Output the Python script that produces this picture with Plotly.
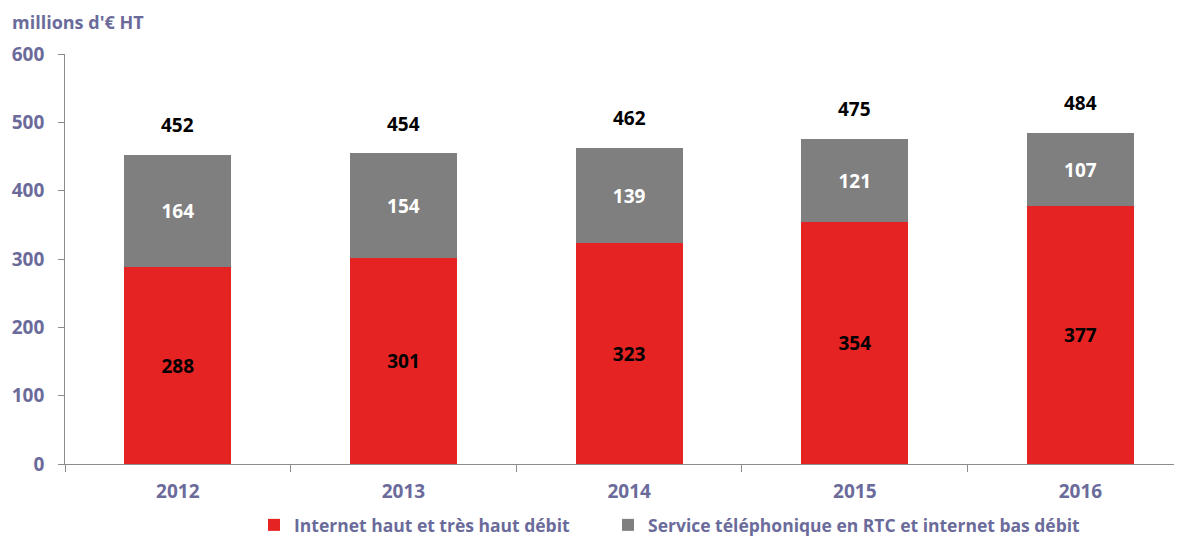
import plotly.graph_objects as go

years = ["2012", "2013", "2014", "2015", "2016"]
internet_hd = [288, 301, 323, 354, 377]
rtc_bas_debit = [164, 154, 139, 121, 107]
totals = [452, 454, 462, 475, 484]
y_ticks = [0, 100, 200, 300, 400, 500, 600]

tick_color = "#6B6B9B"
font_family = "Open Sans, Lato, sans-serif"

# The page body has an 8px default margin, so the figure is drawn 8px in from
# the top-left corner of the window; size and margins compensate for it.
W, H = 1174, 528
ML, MT, MB, MR = 57, 46, 72, 0
PW = W - ML - MR

fig = go.Figure()
fig.add_trace(go.Bar(
    x=years, y=internet_hd, name="Internet haut et très haut débit",
    marker=dict(color="#E52323", line=dict(width=0)),
    text=internet_hd, textposition="inside", insidetextanchor="middle",
    textfont=dict(color="black", size=19, family=font_family, weight="bold"),
    width=0.474, legend="legend",
))
fig.add_trace(go.Bar(
    x=years, y=rtc_bas_debit, name="Service téléphonique en RTC et internet bas débit",
    marker=dict(color="#7F7F7F", line=dict(width=0)),
    text=rtc_bas_debit, textposition="inside", insidetextanchor="middle",
    textfont=dict(color="white", size=19, family=font_family, weight="bold"),
    width=0.474, legend="legend2",
))
for i, t in enumerate(totals):
    fig.add_annotation(x=i, y=t, text=f"<b>{t}</b>", showarrow=False,
                       yanchor="bottom", yshift=15,
                       font=dict(color="black", size=19, family=font_family))

fig.add_annotation(xref="paper", yref="paper", x=-ML / PW, y=1 + (MT - 14) / (H - MT - MB),
                   xanchor="left", yanchor="middle", showarrow=False, xshift=2,
                   text="<b>millions d'€ HT</b>",
                   font=dict(color=tick_color, size=18, family=font_family))

legend_font = dict(color=tick_color, size=17.5, family=font_family, weight="bold")
leg_y = 1 - (525 - 8) / H
fig.update_layout(
    barmode="stack",
    width=W, height=H,
    margin=dict(l=ML, r=MR, t=MT, b=MB),
    plot_bgcolor="white", paper_bgcolor="white",
    showlegend=True,
    legend=dict(orientation="h", x=(254 - 65) / PW, xanchor="left",
                yref="container", y=leg_y, yanchor="middle",
                font=legend_font, itemwidth=30),
    legend2=dict(orientation="h", x=(608 - 65) / PW, xanchor="left",
                 yref="container", y=leg_y, yanchor="middle",
                 font=legend_font, itemwidth=30),
    font=dict(family=font_family),
)
fig.update_xaxes(
    type="category", range=[-0.5, 4.45], tickson="boundaries", automargin=False,
    showline=True, linecolor="#8C8C8C", linewidth=1,
    ticks="outside", ticklen=7, tickcolor="#8C8C8C", ticklabelstandoff=10,
    tickfont=dict(color=tick_color, size=19, family=font_family, weight="bold"),
    showgrid=False, zeroline=False,
)
fig.update_yaxes(
    range=[0, 600], tickvals=y_ticks, ticktext=[f"{v}\u00a0\u00a0" for v in y_ticks],
    automargin=False,
    showline=True, linecolor="#8C8C8C", linewidth=1,
    ticks="outside", ticklen=6, tickcolor="#8C8C8C",
    tickfont=dict(color=tick_color, size=19, family=font_family, weight="bold"),
    showgrid=False, zeroline=False,
)

fig.write_html("out.html")
